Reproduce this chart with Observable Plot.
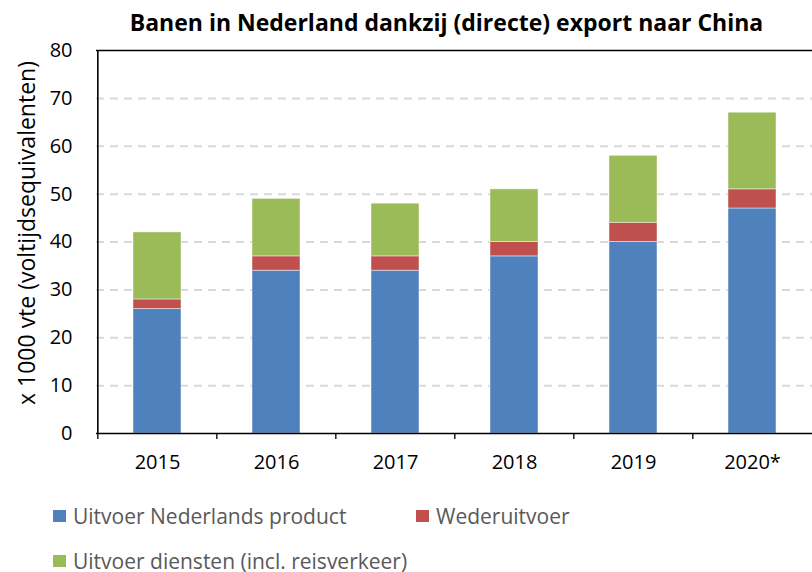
<!DOCTYPE html>
<html>
<head>
<meta charset="utf-8">
<script src="https://cdn.jsdelivr.net/npm/d3@7"></script>
<script src="https://cdn.jsdelivr.net/npm/@observablehq/plot@0.6"></script>
<style>
  body { margin: 0; background: #fff; }
  #wrap { position: relative; width: 812px; font-family: "Open Sans", sans-serif; }
  #title { position: absolute; left: 0; top: 0; width: 812px; box-sizing: border-box; height: 44px; line-height: 44px; padding-left: 81px; text-align: center; font-weight: bold; font-size: 23px; color: #000; white-space: nowrap; z-index: 2; }
  .legend { position: relative; height: 45px; font-size: 21px; color: #595959; }
  .item { position: absolute; top: 12px; height: 28px; display: flex; align-items: center; white-space: nowrap; }
  .sw { width: 13px; height: 12px; margin-right: 7px; }
  #chart svg g[aria-label="x-axis tick label"] text,
  #chart svg g[aria-label="y-axis tick label"] text { font-size: 20px; }
</style>
</head>
<body>
<div id="wrap">
  <div id="title">Banen in Nederland dankzij (directe) export naar China</div>
  <div id="chart"></div>
  <div id="legend"></div>
</div>
<script>
const years = ["2015", "2016", "2017", "2018", "2019", "2020*"];
const series = ["Uitvoer Nederlands product", "Wederuitvoer", "Uitvoer diensten (incl. reisverkeer)"];
const colors = ["#4F81BD", "#C0504D", "#9BBB59"];
const product = [26, 34, 34, 37, 40, 47];
const wederuitvoer = [2, 3, 3, 3, 4, 4];
const diensten = [14, 12, 11, 11, 14, 16];
const yTicks = [0, 10, 20, 30, 40, 50, 60, 70, 80];
const yLabel = "x 1000 vte (voltijdsequivalenten)";

const valuesBySeries = [product, wederuitvoer, diensten];
const data = [];
series.forEach((s, si) => years.forEach((y, yi) => data.push({year: y, series: s, value: valuesBySeries[si][yi]})));

const W = 812, H = 490, mL = 96, mR = 0, mT = 50, mB = 57;
const step = (W - mL - mR) / years.length;

const chart = Plot.plot({
  width: W, height: H,
  marginLeft: mL, marginRight: mR, marginTop: mT, marginBottom: mB,
  style: {fontFamily: "'Open Sans', sans-serif", fontSize: "20px", color: "#000", background: "transparent", overflow: "visible"},
  x: {domain: years, paddingInner: 0.6, paddingOuter: 0.3},
  y: {domain: [0, 80]},
  color: {domain: series, range: colors},
  marks: [
    Plot.gridY(yTicks.filter(d => d > 0 && d < 80), {stroke: "#d9d9d9", strokeOpacity: 1, strokeWidth: 2, strokeDasharray: "8,6"}),
    Plot.barY(data, {x: "year", y: "value", fill: "series", order: series, stroke: "#fff", strokeOpacity: 0.45, strokeWidth: 1}),
    Plot.ruleY([0, 80], {stroke: "#000", strokeWidth: 1.6}),
    Plot.ruleX([years[0]], {dx: -step / 2, stroke: "#000", strokeWidth: 1.6}),
    Plot.ruleX(years, {dx: -step / 2, y1: 0, y2: -1.25, stroke: "#000", strokeWidth: 1.3}),
    Plot.axisX({tickSize: 0, tickPadding: 21, fontSize: 20, label: null}),
    Plot.axisY(yTicks, {tickSize: 0, tickPadding: 24, fontSize: 20, label: null}),
    Plot.text([yLabel], {frameAnchor: "left", rotate: -90, dx: -69, dy: -9, fontSize: 23, fill: "#000", textAnchor: "middle", lineAnchor: "middle"})
  ]
});
chart.querySelectorAll("text").forEach(t => t.setAttribute("fill", "#000"));
document.getElementById("chart").appendChild(chart);

// legend (HTML, below the SVG)
const legend = document.getElementById("legend");
const rows = [[[0, 53], [1, 416]], [[2, 53]]];
rows.forEach(row => {
  const r = document.createElement("div");
  r.className = "legend";
  row.forEach(([i, left]) => {
    const it = document.createElement("div");
    it.className = "item";
    it.style.left = left + "px";
    const sw = document.createElement("span");
    sw.className = "sw";
    sw.style.background = colors[i];
    const tx = document.createElement("span");
    tx.textContent = series[i];
    it.appendChild(sw); it.appendChild(tx);
    r.appendChild(it);
  });
  legend.appendChild(r);
});
</script>
</body>
</html>
